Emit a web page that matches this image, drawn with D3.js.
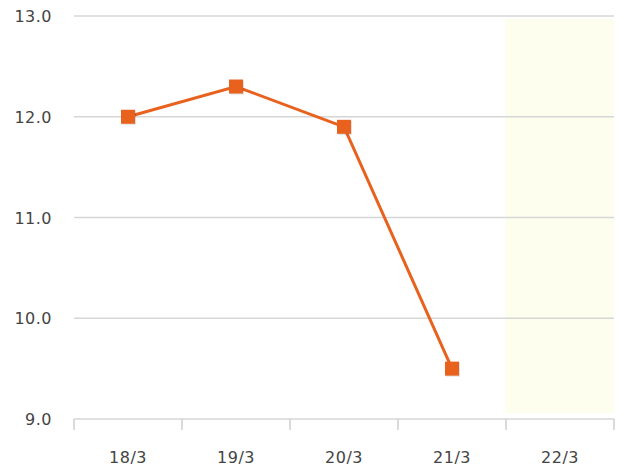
<!DOCTYPE html>
<html><head><meta charset="utf-8">
<script src="https://cdn.jsdelivr.net/npm/d3@7/dist/d3.min.js"></script>
<style>body{margin:0;background:#fff}svg{display:block}</style>
</head><body>
<script>
const categories = ["18/3","19/3","20/3","21/3","22/3"];
const values = [12.0, 12.3, 11.9, 9.5, null];
const yTicks = [9, 10, 11, 12, 13];
const highlighted = ["22/3"];

const W = 635, H = 475;
const m = {left:74, right:21, top:16, bottom:56};
const svg = d3.select("body").append("svg").attr("width",W).attr("height",H);
const x = d3.scaleBand().domain(categories).range([m.left, W-m.right]);
const y = d3.scaleLinear().domain([9,13]).range([H-m.bottom, m.top]);

// highlight band
svg.selectAll("rect.hl").data(highlighted).enter().append("rect")
  .attr("x", d=>x(d)-1).attr("width", x.bandwidth()+1)
  .attr("y", y(13)+3).attr("height", y(9)-y(13)-9)
  .attr("fill","#fefeee");

// grid
svg.selectAll("line.grid").data(yTicks).enter().append("line")
  .attr("x1", m.left).attr("x2", W-m.right)
  .attr("y1", d=>y(d)).attr("y2", d=>y(d))
  .attr("stroke","#d6d6d6").attr("stroke-width",1.5);

// y labels
svg.selectAll("text.yl").data(yTicks).enter().append("text")
  .attr("x", 52).attr("y", d=>y(d)+6).attr("text-anchor","end")
  .attr("font-family","DejaVu Sans").attr("font-size",16).attr("letter-spacing","0.5px")
  .attr("fill","#444")
  .text(d=>d3.format(".1f")(d));

// x ticks
const xt = categories.map(c=>x(c)).concat([x(categories[categories.length-1])+x.bandwidth()]);
svg.selectAll("line.xt").data(xt).enter().append("line")
  .attr("x1",d=>d).attr("x2",d=>d).attr("y1",y(9)).attr("y2",y(9)+11)
  .attr("stroke","#cfcfcf").attr("stroke-width",1.5);

svg.selectAll("text.xl").data(categories).enter().append("text")
  .attr("x", d=>x(d)+x.bandwidth()/2).attr("y", H-12).attr("text-anchor","middle")
  .attr("font-family","DejaVu Sans").attr("font-size",16).attr("letter-spacing","0.5px")
  .attr("fill","#444")
  .text(d=>d);

const pts = categories.map((c,i)=>({c, v:values[i]})).filter(d=>d.v!=null);
const line = d3.line().x(d=>x(d.c)+x.bandwidth()/2).y(d=>y(d.v));
svg.append("path").datum(pts).attr("d",line).attr("fill","none")
  .attr("stroke","#e8621e").attr("stroke-width",3);

// marker shadows
svg.selectAll("rect.sh").data(pts).enter().append("rect")
  .attr("x", d=>x(d.c)+x.bandwidth()/2-6).attr("y", d=>y(d.v)-6)
  .attr("width",14).attr("height",14).attr("fill","rgba(0,0,0,0.12)");
svg.selectAll("rect.mk").data(pts).enter().append("rect")
  .attr("x", d=>x(d.c)+x.bandwidth()/2-7).attr("y", d=>y(d.v)-7)
  .attr("width",14).attr("height",14).attr("fill","#e8621e");
</script>
</body></html>
